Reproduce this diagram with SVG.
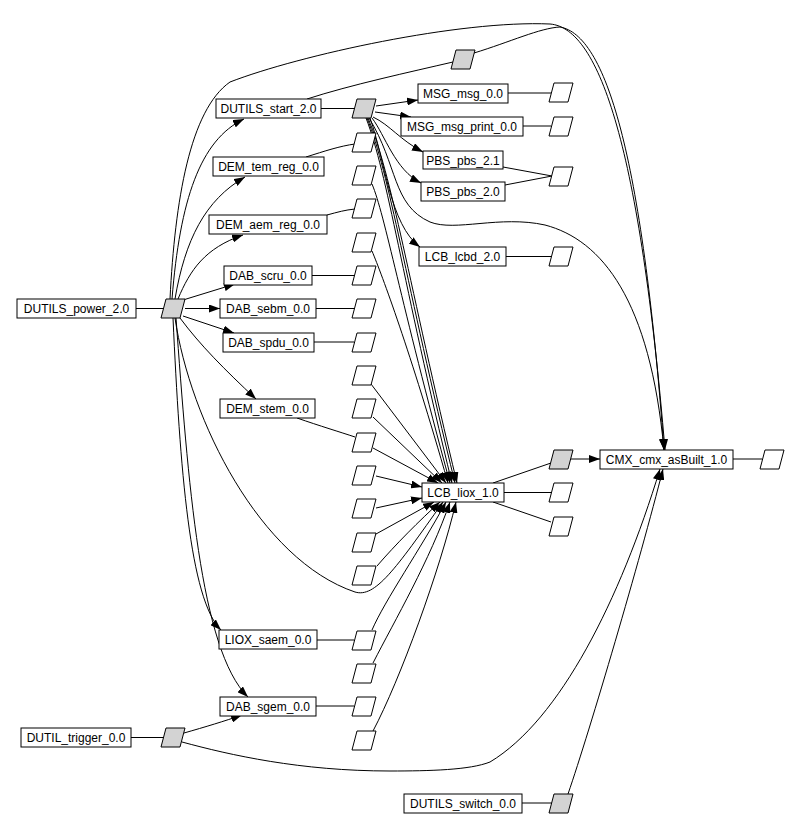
<svg xmlns="http://www.w3.org/2000/svg" width="801" height="819" viewBox="0 0 801 819">
<defs>
<marker id="ah" markerUnits="userSpaceOnUse" markerWidth="11" markerHeight="8" refX="11" refY="4" orient="auto" viewBox="0 0 11 8"><path d="M0,0 L11,4 L0,8 z" fill="#000"/></marker>
<style>
rect{fill:#fff;stroke:#000;stroke-width:1}
polygon{fill:#fff;stroke:#000;stroke-width:1}
polygon.g{fill:#d3d3d3}
text{font-family:"Liberation Sans",Arial,sans-serif;font-size:12px;fill:#000;text-anchor:middle}
#edges path{fill:none;stroke:#000;stroke-width:1}
#edges path.a{marker-end:url(#ah)}
</style>
</defs>
<rect x="0" y="0" width="801" height="819" style="fill:#fff;stroke:none"/>
<g id="edges">
<path d="M136,308.5 L163,308.5"/>
<path d="M321,108.5 L355,108.5"/>
<path d="M307,99 C350,85 410,72 453,62"/>
<path d="M306,157 C325,151 340,146 355,144"/>
<path d="M327,215 C338,212 345,210 355,209"/>
<path d="M312,275.5 L354,275.5"/>
<path d="M316,308.5 L354,308.5"/>
<path d="M314,342 L354,342"/>
<path d="M297,418 C320,426 340,432 355,437"/>
<path d="M317,640 L354,640"/>
<path d="M316,706 L354,706"/>
<path d="M508,93 L551,93"/>
<path d="M523,126 L551,126"/>
<path d="M503,167 L552,176"/>
<path d="M505,185 L552,176"/>
<path d="M506,256.5 L551,256.5"/>
<path d="M493,483 L551,463"/>
<path d="M504,492.5 L551,492.5"/>
<path d="M493,502 L551,522"/>
<path d="M733,459 L762,459"/>
<path d="M131,737.5 L163,737.5"/>
<path d="M522,803 L552,803"/>
<path class="a" d="M571,459 L600,459"/>
<path class="a" d="M376,106 L418,100"/>
<path class="a" d="M375,112 L411,117"/>
<path class="a" d="M373,117 C390,125 400,140 423,152"/>
<path class="a" d="M372,118 C385,135 395,170 421,183"/>
<path class="a" d="M370,118 C385,160 390,225 420,247"/>
<path class="a" d="M369,118 C398,165 392,205 430,222 C455,232 500,215 545,225 C602,240 650,300 664,450"/>
<path class="a" d="M367,118 C390,175 405,280 455,483"/>
<path class="a" d="M368,118 C392,175 408,280 457,483"/>
<path class="a" d="M366,118 C388,175 402,280 452,483"/>
<path class="a" d="M372,184 C385,215 400,300 450,483"/>
<path class="a" d="M372,251 C382,275 410,350 448,483"/>
<path class="a" d="M371,384 L446,483"/>
<path class="a" d="M373,417 L442,483"/>
<path class="a" d="M373,448 L438,483"/>
<path class="a" d="M376,476 L422,487"/>
<path class="a" d="M376,508 L422,498"/>
<path class="a" d="M376,534 L434,502"/>
<path class="a" d="M377,566 C395,545 420,520 440,502"/>
<path class="a" d="M372,630 C385,600 420,550 446,502"/>
<path class="a" d="M373,663 C395,620 430,560 450,502"/>
<path class="a" d="M373,731 C400,680 440,570 456,502"/>
<path class="a" d="M175,318 C190,420 260,560 355,592 C375,598 395,570 443,502"/>
<path class="a" d="M172,299 C180,200 200,140 244,119"/>
<path class="a" d="M175,299 C185,240 205,200 245,177"/>
<path class="a" d="M178,299 C190,270 205,248 243,235"/>
<path class="a" d="M183,300 L235,284"/>
<path class="a" d="M185,308.5 L220,308.5"/>
<path class="a" d="M183,316 L234,333"/>
<path class="a" d="M180,318 C200,345 225,370 256,399"/>
<path class="a" d="M173,318 C180,470 190,600 221,630"/>
<path class="a" d="M176,318 C188,480 200,650 248,697"/>
<path class="a" d="M170,299 C175,200 190,110 230,82 C300,55 460,20 550,24 C600,28 640,150 665,450"/>
<path class="a" d="M474,53 C510,42 540,28 560,27 C605,35 642,150 664,450"/>
<path class="a" d="M184,733 C205,727 225,721 242,715"/>
<path class="a" d="M182,742 C230,755 300,771 390,771 C430,771 470,770 490,762 C560,720 620,600 660,469"/>
<path class="a" d="M568,794 C590,730 640,560 663,469"/>
</g>
<g id="DUTILS_power_2.0"><rect x="17" y="299" width="119" height="19"/><text x="76.5" y="313">DUTILS_power_2.0</text></g>
<g id="DUTILS_start_2.0"><rect x="216" y="99" width="105" height="19"/><text x="268.5" y="113">DUTILS_start_2.0</text></g>
<g id="DEM_tem_reg_0.0"><rect x="213" y="157" width="111" height="19"/><text x="268.5" y="171">DEM_tem_reg_0.0</text></g>
<g id="DEM_aem_reg_0.0"><rect x="209" y="215" width="118" height="19"/><text x="268" y="229">DEM_aem_reg_0.0</text></g>
<g id="DAB_scru_0.0"><rect x="224" y="266" width="88" height="19"/><text x="268" y="280">DAB_scru_0.0</text></g>
<g id="DAB_sebm_0.0"><rect x="220" y="299" width="96" height="19"/><text x="268" y="313">DAB_sebm_0.0</text></g>
<g id="DAB_spdu_0.0"><rect x="223" y="333" width="91" height="19"/><text x="268.5" y="347">DAB_spdu_0.0</text></g>
<g id="DEM_stem_0.0"><rect x="220" y="399" width="95" height="19"/><text x="267.5" y="413">DEM_stem_0.0</text></g>
<g id="LIOX_saem_0.0"><rect x="219" y="630" width="98" height="19"/><text x="268" y="644">LIOX_saem_0.0</text></g>
<g id="DAB_sgem_0.0"><rect x="220" y="697" width="96" height="19"/><text x="268" y="711">DAB_sgem_0.0</text></g>
<g id="DUTIL_trigger_0.0"><rect x="21" y="728" width="110" height="19"/><text x="76" y="742">DUTIL_trigger_0.0</text></g>
<g id="MSG_msg_0.0"><rect x="418" y="84" width="90" height="19"/><text x="463" y="98">MSG_msg_0.0</text></g>
<g id="MSG_msg_print_0.0"><rect x="401" y="117" width="122" height="19"/><text x="462" y="131">MSG_msg_print_0.0</text></g>
<g id="PBS_pbs_2.1"><rect x="423" y="151" width="80" height="18"/><text x="463" y="164.5">PBS_pbs_2.1</text></g>
<g id="PBS_pbs_2.0"><rect x="421" y="182" width="84" height="19"/><text x="463" y="196">PBS_pbs_2.0</text></g>
<g id="LCB_lcbd_2.0"><rect x="419" y="247" width="87" height="19"/><text x="462.5" y="261">LCB_lcbd_2.0</text></g>
<g id="LCB_liox_1.0"><rect x="422" y="483" width="82" height="19"/><text x="463" y="497">LCB_liox_1.0</text></g>
<g id="CMX_cmx_asBuilt_1.0"><rect x="600" y="450" width="133" height="19"/><text x="666.5" y="464">CMX_cmx_asBuilt_1.0</text></g>
<g id="DUTILS_switch_0.0"><rect x="404" y="794" width="118" height="19"/><text x="463" y="808">DUTILS_switch_0.0</text></g>
<g id="art_power"><polygon class="g" points="166,299 185,299 180,318 161,318"/></g>
<g id="art_trigger"><polygon class="g" points="166,728 185,728 180,747 161,747"/></g>
<g id="art_start"><polygon class="g" points="357,99 376,99 371,118 352,118"/></g>
<g id="art_top"><polygon class="g" points="456,50 475,50 470,69 451,69"/></g>
<g id="art_liox"><polygon class="g" points="554,450 573,450 568,469 549,469"/></g>
<g id="art_switch"><polygon class="g" points="554,794 573,794 568,813 549,813"/></g>
<g id="art_col">
<polygon points="357,133 376,133 371,152 352,152"/>
<polygon points="357,166 376,166 371,185 352,185"/>
<polygon points="357,199 376,199 371,218 352,218"/>
<polygon points="357,233 376,233 371,252 352,252"/>
<polygon points="357,266 376,266 371,285 352,285"/>
<polygon points="357,299 376,299 371,318 352,318"/>
<polygon points="357,333 376,333 371,352 352,352"/>
<polygon points="357,366 376,366 371,385 352,385"/>
<polygon points="357,399 376,399 371,418 352,418"/>
<polygon points="357,433 376,433 371,452 352,452"/>
<polygon points="357,466 376,466 371,485 352,485"/>
<polygon points="357,499 376,499 371,518 352,518"/>
<polygon points="357,533 376,533 371,552 352,552"/>
<polygon points="357,566 376,566 371,585 352,585"/>
<polygon points="357,631 376,631 371,650 352,650"/>
<polygon points="357,664 376,664 371,683 352,683"/>
<polygon points="357,697 376,697 371,716 352,716"/>
<polygon points="357,731 376,731 371,750 352,750"/>
</g>
<g id="art_right">
<polygon points="554,83 573,83 568,102 549,102"/>
<polygon points="554,117 573,117 568,136 549,136"/>
<polygon points="554,167 573,167 568,186 549,186"/>
<polygon points="554,247 573,247 568,266 549,266"/>
<polygon points="554,483 573,483 568,502 549,502"/>
<polygon points="554,517 573,517 568,536 549,536"/>
<polygon points="765,450 784,450 779,469 760,469"/>
</g>
</svg>
